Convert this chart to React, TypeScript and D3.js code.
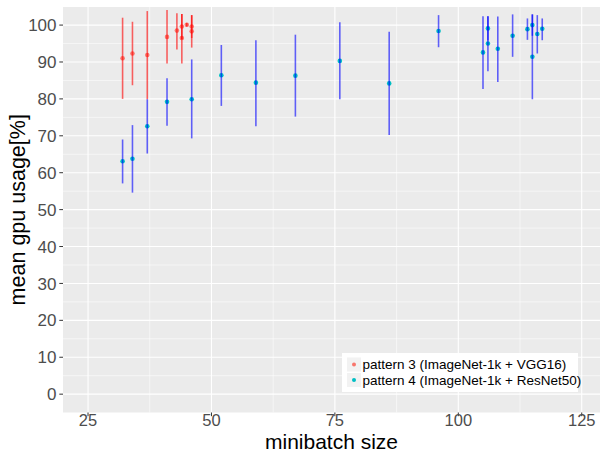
import React from "react";
import * as d3 from "d3";

const p3X = [32, 34, 37, 41, 43, 44, 44, 45, 46, 46];
const p3Y = [91.0, 92.3, 91.9, 96.8, 98.5, 99.6, 96.5, 100.1, 99.6, 98.3];
const p3Lo = [80.0, 83.7, 79.9, 89.6, 93.4, 96.2, 89.6, 99.6, 96.5, 93.9];
const p3Hi = [102.0, 100.9, 103.8, 104.1, 103.2, 103.0, 103.0, 100.6, 102.7, 102.7];

const p4X = [32, 34, 37, 41, 46, 52, 59, 67, 76, 86, 96, 105, 106, 106, 108, 111, 114, 115, 115, 116, 117];
const p4Y = [63.1, 63.8, 72.6, 79.2, 79.9, 86.4, 84.4, 86.3, 90.3, 84.2, 98.4, 92.6, 99.1, 95.0, 93.6, 97.1, 98.9, 100.0, 91.4, 97.6, 99.0];
const p4Lo = [57.1, 54.6, 65.2, 72.7, 69.3, 78.1, 72.6, 75.2, 79.9, 70.2, 94.0, 82.7, 95.8, 87.5, 84.6, 91.4, 96.0, 97.1, 79.9, 92.3, 95.9];
const p4Hi = [69.0, 72.9, 79.9, 85.6, 90.7, 94.6, 95.9, 97.4, 100.8, 98.2, 102.7, 102.4, 102.4, 102.4, 102.3, 102.9, 101.8, 102.9, 102.9, 102.7, 101.8];

const xTicks = [25, 50, 75, 100, 125];
const xMinor = [37.5, 62.5, 87.5, 112.5];
const yTicks = [0, 10, 20, 30, 40, 50, 60, 70, 80, 90, 100];
const yMinor = [5, 15, 25, 35, 45, 55, 65, 75, 85, 95];

const seriesNames = ["pattern 3 (ImageNet-1k + VGG16)", "pattern 4 (ImageNet-1k + ResNet50)"];
const pointColors = ["#F8766D", "#00BFC4"];
const barColors = ["rgba(255,0,0,0.6)", "rgba(0,0,255,0.6)"];

export default function App() {
  const W = 600, H = 452;
  const L = 63, R = 600, T = 7, B = 412.5;
  const x = d3.scaleLinear().domain([19.93, 128.7]).range([L, R]);
  const y = d3.scaleLinear().domain([-4.97, 104.9]).range([B, T]);
  const font = "'Liberation Sans', Arial, sans-serif";

  const series = [
    { xs: p3X, ys: p3Y, lo: p3Lo, hi: p3Hi },
    { xs: p4X, ys: p4Y, lo: p4Lo, hi: p4Hi },
  ];

  return (
    <svg width={W} height={H} style={{ position: "absolute", left: 0, top: 0 }} fontFamily={font}>
      <rect x={0} y={0} width={W} height={H} fill="white" />
      <rect x={L} y={T} width={R - L} height={B - T} fill="#EBEBEB" />
      {yMinor.map((v) => (
        <line key={"ym" + v} x1={L} x2={R} y1={y(v)} y2={y(v)} stroke="white" strokeWidth={0.55} />
      ))}
      {xMinor.map((v) => (
        <line key={"xm" + v} x1={x(v)} x2={x(v)} y1={T} y2={B} stroke="white" strokeWidth={0.55} />
      ))}
      {yTicks.map((v) => (
        <line key={"yM" + v} x1={L} x2={R} y1={y(v)} y2={y(v)} stroke="white" strokeWidth={1.1} />
      ))}
      {xTicks.map((v) => (
        <line key={"xM" + v} x1={x(v)} x2={x(v)} y1={T} y2={B} stroke="white" strokeWidth={1.1} />
      ))}
      {series.map((s, si) =>
        s.xs.map((xv, i) => (
          <circle key={"p" + si + "-" + i} cx={x(xv)} cy={y(s.ys[i])} r={2.3} fill={pointColors[si]} />
        ))
      )}
      {series.map((s, si) =>
        s.xs.map((xv, i) => (
          <line key={"e" + si + "-" + i} x1={x(xv)} x2={x(xv)} y1={y(s.lo[i])} y2={y(s.hi[i])}
            stroke={barColors[si]} strokeWidth={1.6} />
        ))
      )}
      {yTicks.map((v) => (
        <g key={"yt" + v}>
          <line x1={L - 3.7} x2={L} y1={y(v)} y2={y(v)} stroke="#333333" strokeWidth={1} />
          <text x={L - 6.5} y={y(v)} dy="0.36em" textAnchor="end" fontSize={17} fill="#4D4D4D">{v}</text>
        </g>
      ))}
      {xTicks.map((v) => (
        <g key={"xt" + v}>
          <line x1={x(v)} x2={x(v)} y1={B} y2={B + 3.7} stroke="#333333" strokeWidth={1} />
          <text x={x(v)} y={B + 8} dy="0.36em" textAnchor="middle" fontSize={16.5} fill="#4D4D4D">{v}</text>
        </g>
      ))}
      <text x={(L + R) / 2} y={448.5} textAnchor="middle" fontSize={21} fill="black">minibatch size</text>
      <text transform={`translate(25,${(T + B) / 2}) rotate(-90)`} textAnchor="middle" fontSize={21.5} fill="black">mean gpu usage[%]</text>
      <g>
        <rect x={342} y={353} width={236} height={39} fill="white" />
        {seriesNames.map((n, i) => (
          <g key={"lg" + i}>
            <rect x={347} y={357.5 + i * 15.5} width={14} height={14} fill="#F2F2F2" />
            <circle cx={354} cy={364.5 + i * 15.5} r={2} fill={pointColors[i]} />
            <text x={362.5} y={364.5 + i * 15.5} dy="0.36em" fontSize={13.5} fill="black">{n}</text>
          </g>
        ))}
      </g>
    </svg>
  );
}
